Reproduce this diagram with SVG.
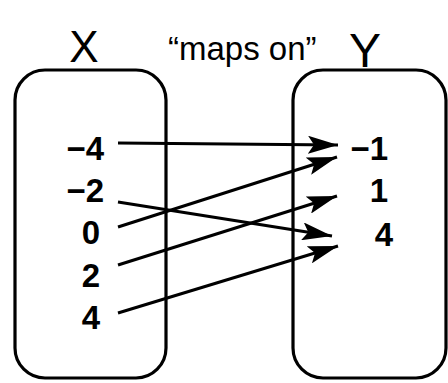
<svg xmlns="http://www.w3.org/2000/svg" width="448" height="383" viewBox="0 0 448 383">
<defs>
<style>
.box{fill:none;stroke:#000;stroke-width:3.2}
.num{font-family:"Liberation Sans",Arial,sans-serif;font-weight:bold;font-size:33px;fill:#000}
.hand{font-family:"Liberation Sans",Arial,sans-serif;font-weight:normal;fill:#000}
.conn line{stroke:#000;stroke-width:3}
</style>
<marker id="ah" markerWidth="10" markerHeight="6" refX="10" refY="3" orient="auto" markerUnits="strokeWidth">
<path d="M0,0 L10,3 L0,6 L2,3 Z" fill="#000"/>
</marker>
</defs>
<rect width="448" height="383" fill="#fff"/>
<g id="titles">
<text class="hand" x="84" y="62" font-size="44" text-anchor="middle">X</text>
<text class="hand" x="365" y="67" font-size="48" text-anchor="middle">Y</text>
<text class="hand" x="168" y="60" font-size="33">“maps on”</text>
</g>
<g id="setX">
<rect class="box" x="15" y="70" width="151" height="308" rx="30"/>
<text class="num" x="104" y="160" text-anchor="end">−4</text>
<text class="num" x="104" y="202" text-anchor="end">−2</text>
<text class="num" x="100" y="244" text-anchor="end">0</text>
<text class="num" x="100" y="287" text-anchor="end">2</text>
<text class="num" x="100" y="329" text-anchor="end">4</text>
</g>
<g id="setY">
<rect class="box" x="293" y="70" width="153" height="308" rx="30"/>
<text class="num" x="388" y="160" text-anchor="end">−1</text>
<text class="num" x="388" y="202" text-anchor="end">1</text>
<text class="num" x="393" y="246" text-anchor="end">4</text>
</g>
<g id="connectors" class="conn">
<line x1="118" y1="143" x2="338" y2="145" marker-end="url(#ah)"/>
<line x1="118" y1="202" x2="332" y2="236" marker-end="url(#ah)"/>
<line x1="118" y1="227" x2="337" y2="157" marker-end="url(#ah)"/>
<line x1="118" y1="265" x2="337" y2="196" marker-end="url(#ah)"/>
<line x1="118" y1="313" x2="338" y2="246" marker-end="url(#ah)"/>
</g>
</svg>
